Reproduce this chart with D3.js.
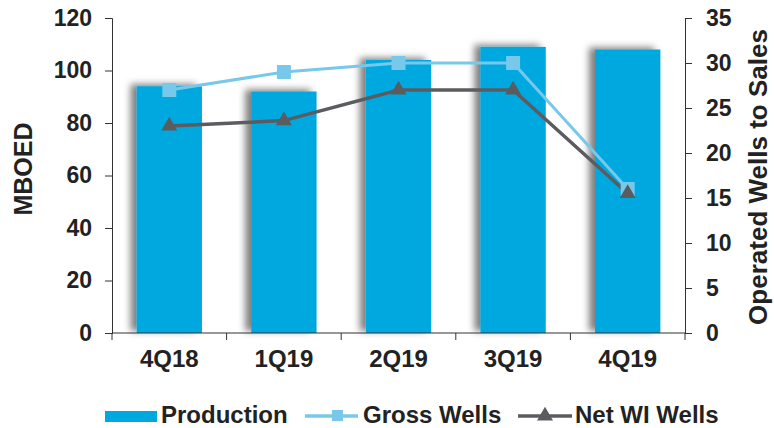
<!DOCTYPE html>
<html>
<head>
<meta charset="utf-8">
<script src="https://cdn.jsdelivr.net/npm/d3@7"></script>
<style>
  body { margin: 0; background: #fff; }
  text { font-family: "Liberation Sans", Arial, sans-serif; font-weight: bold; fill: #222; }
</style>
</head>
<body>
<div id="chart"></div>
<script>
// quarters on the x axis
var quarters = ["4Q18", "1Q19", "2Q19", "3Q19", "4Q19"];
// production in MBOED (left axis)
var production = [94, 92, 104, 109, 108];
// wells to sales (right axis)
var grossWells = [27, 29, 30, 30, 16];
var netWells = [23, 23.6, 27, 27, 15.5];
var leftTicks = [0, 20, 40, 60, 80, 100, 120];
var rightTicks = [0, 5, 10, 15, 20, 25, 30, 35];

const w = 774, h = 428;
const padL = 112, padR = 685, padT = 18, padB = 333;

const barColor = "#00a8e0", grossColor = "#77c8ea", netColor = "#5a5c5f";

const svg = d3.select("#chart").append("svg")
  .attr("width", w).attr("height", h);

// soft shadow on the bars
const defs = svg.append("defs");
const f = defs.append("filter").attr("id", "shadow")
  .attr("x", "-20%").attr("y", "-10%").attr("width", "140%").attr("height", "120%");
f.append("feDropShadow").attr("dx", -6).attr("dy", -2).attr("stdDeviation", 3.5)
  .attr("flood-color", "#000").attr("flood-opacity", 0.5);

const xScale = d3.scaleBand().domain(quarters).range([padL, padR]).paddingInner(0.43).paddingOuter(0.215);
const yLeft = d3.scaleLinear().domain([0, 120]).range([padB, padT]);
const yRight = d3.scaleLinear().domain([0, 35]).range([padB, padT]);
const cx = d => xScale(d) + xScale.bandwidth() / 2;

// bars
svg.append("g").selectAll("rect")
  .data(production)
  .enter().append("rect")
  .attr("x", (d, i) => xScale(quarters[i]))
  .attr("y", d => yLeft(d))
  .attr("width", xScale.bandwidth())
  .attr("height", d => padB - yLeft(d))
  .attr("fill", barColor)
  .attr("filter", "url(#shadow)");

// axes
const axisL = svg.append("g").attr("transform", "translate(" + padL + ",0)")
  .call(d3.axisLeft(yLeft).tickValues(leftTicks).tickSize(7).tickPadding(13));
const axisR = svg.append("g").attr("transform", "translate(" + padR + ",0)")
  .call(d3.axisRight(yRight).tickValues(rightTicks).tickSize(7).tickPadding(14));
const axisB = svg.append("g").attr("transform", "translate(0," + padB + ")")
  .call(d3.axisBottom(xScale).tickSize(0).tickPadding(17));
// category separators below the baseline
const step = xScale.step();
let sep = "M" + padL + ",0H" + padR;
for (let i = 0; i <= quarters.length; i++) {
  sep += "M" + (padL + i * step) + ",0V7";
}
axisB.select(".domain").attr("d", sep);

[axisL, axisR, axisB].forEach(function(a) {
  a.selectAll("text").style("font-size", "23px").attr("fill", "#222");
  a.selectAll(".domain, line").attr("stroke", "#333");
});
axisB.selectAll("text").style("font-size", "24px");

// lines
const lineG = d3.line().x((d, i) => cx(quarters[i])).y(d => yRight(d));
svg.append("path").datum(grossWells).attr("d", lineG)
  .attr("fill", "none").attr("stroke", grossColor).attr("stroke-width", 3);
svg.append("path").datum(netWells).attr("d", lineG)
  .attr("fill", "none").attr("stroke", netColor).attr("stroke-width", 3.5);

svg.append("g").selectAll("rect")
  .data(grossWells)
  .enter().append("rect")
  .attr("x", (d, i) => cx(quarters[i]) - 7)
  .attr("y", d => yRight(d) - 7)
  .attr("width", 14).attr("height", 14)
  .attr("fill", grossColor);

const tri = d3.symbol().type(d3.symbolTriangle).size(110);
svg.append("g").selectAll("path")
  .data(netWells)
  .enter().append("path")
  .attr("d", tri)
  .attr("transform", (d, i) => "translate(" + cx(quarters[i]) + "," + yRight(d) + ")")
  .attr("fill", netColor);

// axis titles
svg.append("text")
  .attr("transform", "translate(32,169) rotate(-90)")
  .attr("text-anchor", "middle")
  .style("font-size", "25px")
  .text("MBOED");
svg.append("text")
  .attr("transform", "translate(767,177) rotate(-90)")
  .attr("text-anchor", "middle")
  .style("font-size", "26px")
  .text("Operated Wells to Sales");

// legend
const lg = svg.append("g").attr("transform", "translate(0,416)");
lg.append("rect").attr("x", 105).attr("y", -5).attr("width", 52).attr("height", 11).attr("fill", barColor);
lg.append("text").attr("x", 161).attr("y", 7).style("font-size", "24px").text("Production");

lg.append("line").attr("x1", 305).attr("x2", 358).attr("y1", 0).attr("y2", 0)
  .attr("stroke", grossColor).attr("stroke-width", 3.5);
lg.append("rect").attr("x", 332).attr("y", -6).attr("width", 11).attr("height", 11).attr("fill", grossColor);
lg.append("text").attr("x", 363).attr("y", 7).style("font-size", "24px").text("Gross Wells");

lg.append("line").attr("x1", 518).attr("x2", 572).attr("y1", 0).attr("y2", 0)
  .attr("stroke", netColor).attr("stroke-width", 3.5);
lg.append("path").attr("d", tri).attr("transform", "translate(545,0)").attr("fill", netColor);
lg.append("text").attr("x", 575).attr("y", 7).style("font-size", "24px").text("Net WI Wells");
</script>
</body>
</html>
